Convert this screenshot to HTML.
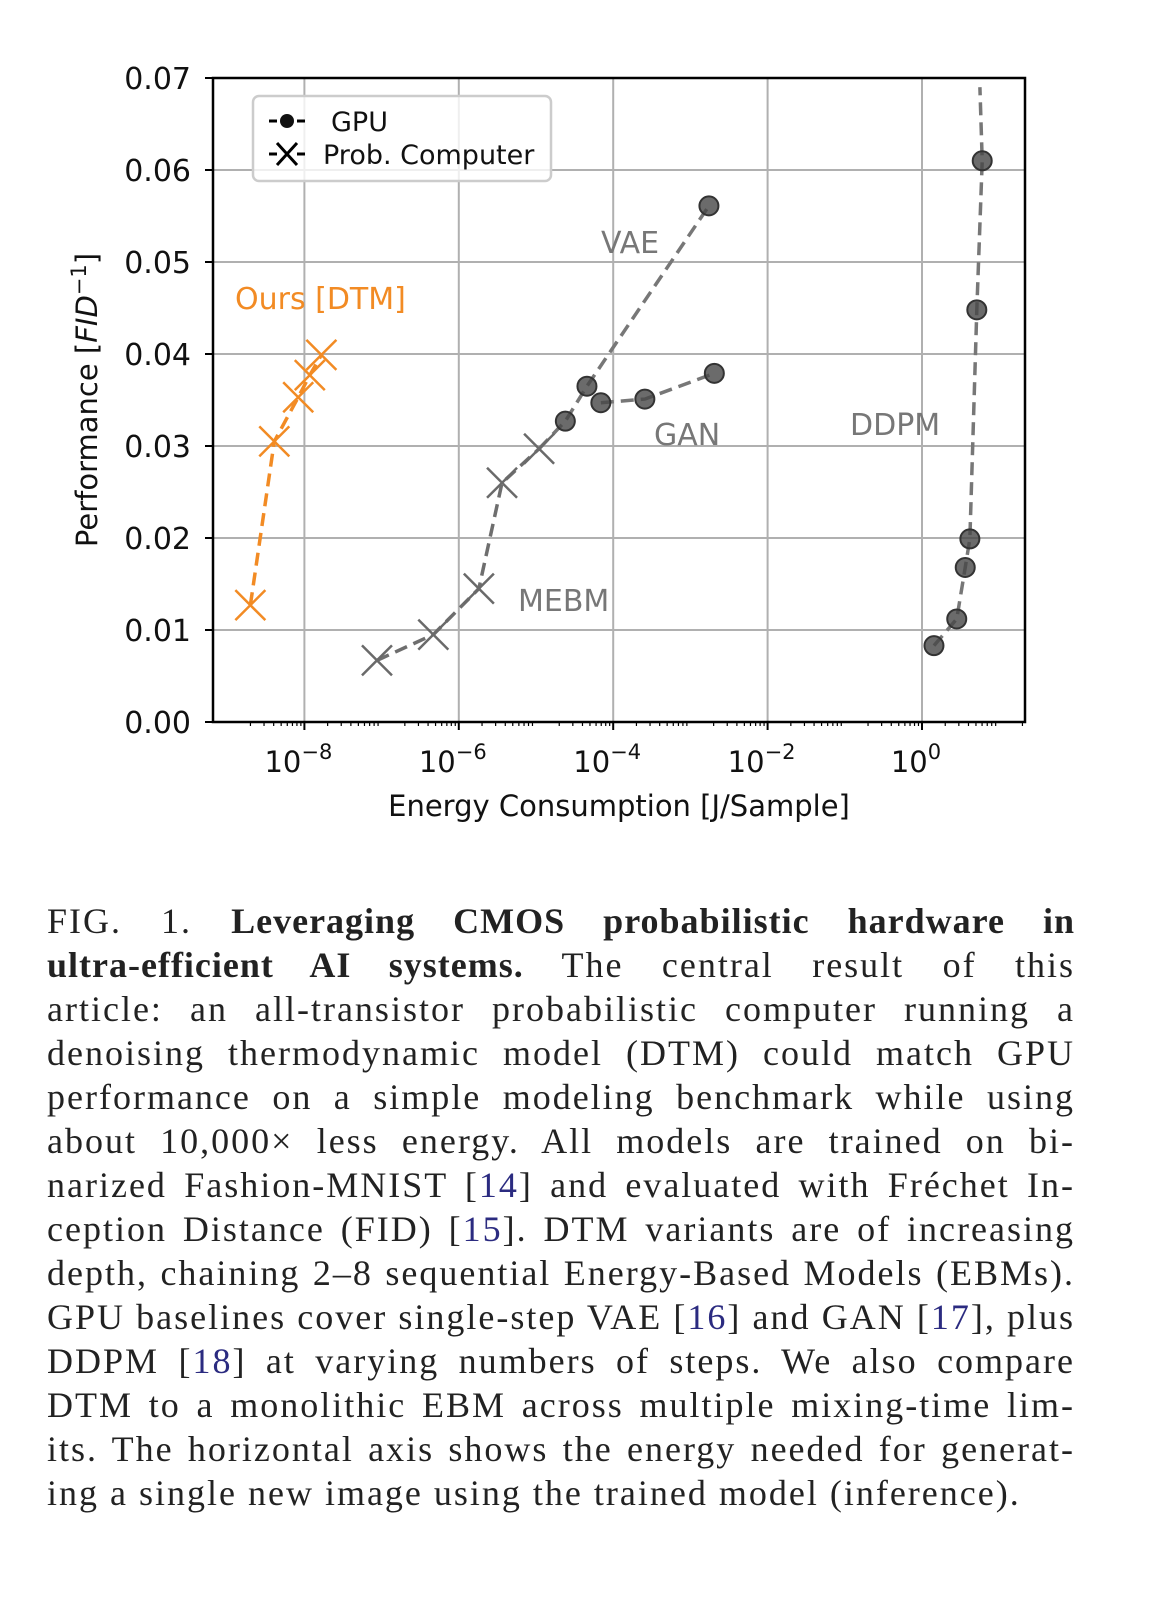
<!DOCTYPE html>
<html><head><meta charset="utf-8">
<style>
body{margin:0;background:#fff;width:1154px;height:1602px;overflow:hidden;position:relative}
svg{position:absolute;left:0;top:0}
.cap{position:absolute;left:47px;width:1028px;font-family:"Liberation Serif",serif;font-size:36px;letter-spacing:2px;color:#222;text-align:justify;text-align-last:justify;white-space:nowrap;line-height:44px}
.cap.last{text-align-last:left}
.cap b{letter-spacing:1px}
.ref{color:#2b2b80}
</style></head><body>
<svg width="1154" height="1602" font-family="DejaVu Sans, Liberation Sans, sans-serif">
<g id="grid"></g>
<g id="series"></g>
<g id="axes"></g>
</svg>
<div>
<div class="cap" style="top:899px">FIG. 1. <b>Leveraging CMOS probabilistic hardware in</b></div>
<div class="cap" style="top:943px"><b>ultra-efficient AI systems.</b> The central result of this</div>
<div class="cap" style="top:987px">article: an all-transistor probabilistic computer running a</div>
<div class="cap" style="top:1031px">denoising thermodynamic model (DTM) could match GPU</div>
<div class="cap" style="top:1075px">performance on a simple modeling benchmark while using</div>
<div class="cap" style="top:1119px">about 10,000× less energy. All models are trained on bi-</div>
<div class="cap" style="top:1163px">narized Fashion-MNIST [<span class="ref">14</span>] and evaluated with Fréchet In-</div>
<div class="cap" style="top:1207px">ception Distance (FID) [<span class="ref">15</span>]. DTM variants are of increasing</div>
<div class="cap" style="top:1251px">depth, chaining 2–8 sequential Energy-Based Models (EBMs).</div>
<div class="cap" style="top:1295px">GPU baselines cover single-step VAE [<span class="ref">16</span>] and GAN [<span class="ref">17</span>], plus</div>
<div class="cap" style="top:1339px">DDPM [<span class="ref">18</span>] at varying numbers of steps. We also compare</div>
<div class="cap" style="top:1383px">DTM to a monolithic EBM across multiple mixing-time lim-</div>
<div class="cap" style="top:1427px">its. The horizontal axis shows the energy needed for generat-</div>
<div class="cap last" style="top:1471px">ing a single new image using the trained model (inference).</div>
</div>
<script>
const yTicks=[0,0.01,0.02,0.03,0.04,0.05,0.06,0.07];
const yTickLabels=["0.00","0.01","0.02","0.03","0.04","0.05","0.06","0.07"];
const xTickExps=[-8,-6,-4,-2,0];
const dtmLogE=[-8.70,-8.39,-8.08,-7.93,-7.78];
const dtmPerf=[0.0127,0.0305,0.0353,0.0377,0.0399];
const mebmLogE=[-7.06,-6.33,-5.74,-5.44,-4.96];
const mebmPerf=[0.0067,0.0095,0.0145,0.0260,0.0297];
const vaeLogE=[-4.62,-4.34,-2.76];
const vaePerf=[0.0327,0.0365,0.0561];
const ganLogE=[-4.16,-3.59,-2.69];
const ganPerf=[0.0347,0.0351,0.0379];
const ddpmLogE=[0.155,0.45,0.56,0.62,0.71,0.78];
const ddpmPerf=[0.0083,0.0112,0.0168,0.0199,0.0448,0.0610];

const L=213,R=1025,T=78,B=722;
const X=v=>922+77.2*v;
const Y=v=>B-(v/0.07)*(B-T);
const NS="http://www.w3.org/2000/svg";
function mk(tag,attrs,parent,text){const e=document.createElementNS(NS,tag);for(const k in attrs)e.setAttribute(k,attrs[k]);if(text!==undefined)e.textContent=text;parent.appendChild(e);return e;}
const grid=document.getElementById('grid'),ser=document.getElementById('series'),ax=document.getElementById('axes');
yTicks.forEach((t,i)=>{
 const g=mk('line',{x1:L,x2:R,y1:Y(t),y2:Y(t),stroke:'#b0b0b0','stroke-width':2},grid);
 
 
 mk('line',{x1:L-8,x2:L,y1:Y(t),y2:Y(t),stroke:'#000','stroke-width':2},ax);
 const lb=mk('text',{x:L-22,y:Y(t)+11,'font-size':30,'text-anchor':'end',fill:'#111'},ax,yTickLabels[i]);
 
 
});
xTickExps.forEach(e=>{
 const x=X(e);
 const g=mk('line',{x1:x,x2:x,y1:T,y2:B,stroke:'#b0b0b0','stroke-width':2},grid);
 
 
 mk('line',{x1:x,x2:x,y1:B,y2:B+8,stroke:'#000','stroke-width':2},ax);
 const t=mk('text',{x:x-6,y:772,'font-size':29,'text-anchor':'middle',fill:'#111'},ax,'10');
 mk('tspan',{dy:-13,'font-size':21},t,String(e).replace('-','\u2212'));
 
 
});
for(let e=-9;e<=1;e++){for(let k=2;k<10;k++){const x=X(e+Math.log10(k));if(x>L&&x<R)mk('line',{x1:x,x2:x,y1:B,y2:B+4,stroke:'#000','stroke-width':1.2},ax);}}
const fr=mk('rect',{x:L,y:T,width:R-L,height:B-T,fill:'none',stroke:'#000','stroke-width':2.5},ax);


const xt=mk('text',{x:619,y:816,'font-size':29,'text-anchor':'middle',fill:'#111'},ax,'Energy Consumption [J/Sample]');


const yt=mk('text',{transform:'translate(97,400) rotate(-90)','font-size':29,'text-anchor':'middle',fill:'#111'},ax);
mk('tspan',{},yt,'Performance [');mk('tspan',{'font-style':'italic'},yt,'FID');
mk('tspan',{dy:-11,'font-size':21},yt,'\u22121');mk('tspan',{dy:11},yt,']');



function line(xs,ys,color,name){
 const d=xs.map((v,i)=>(i?'L':'M')+X(v)+','+Y(ys[i])).join(' ');
 const p=mk('path',{d:d,fill:'none',stroke:color,'stroke-width':3.5,'stroke-dasharray':'13,7'},ser);
 
 
}
function crosses(xs,ys,color,name){xs.forEach((v,i)=>{const x=X(v),y=Y(ys[i]),s=15;
 const g=mk('path',{d:`M${x-s},${y-s}L${x+s},${y+s}M${x-s},${y+s}L${x+s},${y-s}`,stroke:color,'stroke-width':2.5,fill:'none'},ser);
 
 });}
function dots(xs,ys,name){xs.forEach((v,i)=>{
 const c=mk('circle',{cx:X(v),cy:Y(ys[i]),r:9.5,fill:'rgba(70,70,70,0.8)',stroke:'#333','stroke-width':2},ser);
 
 });}
line(dtmLogE,dtmPerf,'#f28b24','dtm-line');
line(mebmLogE,mebmPerf,'#6e6e6e','mebm-line');
line([mebmLogE[mebmLogE.length-1]].concat(vaeLogE),[mebmPerf[mebmPerf.length-1]].concat(vaePerf),'#777','vae-line');
line(ganLogE,ganPerf,'#777','gan-line');
line(ddpmLogE.concat([0.75]),ddpmPerf.concat([0.069]),'#777','ddpm-line');
crosses(dtmLogE,dtmPerf,'#f28b24','dtm-point');
crosses(mebmLogE,mebmPerf,'#6a6a6a','mebm-point');
dots(vaeLogE,vaePerf,'vae-point');dots(ganLogE,ganPerf,'gan-point');dots(ddpmLogE,ddpmPerf,'ddpm-point');
[['Ours [DTM]',235,309,'#f28b24','dtm-label'],['VAE',601,253,'#777','vae-label'],['GAN',654,445,'#777','gan-label'],['DDPM',850,435,'#777','ddpm-label'],['MEBM',518,611,'#777','mebm-label']].forEach(a=>{
 const t=mk('text',{x:a[1],y:a[2],'font-size':30,fill:a[3]},ser,a[0]);
 
 });
const lg=mk('g',{},ax);


mk('rect',{x:253,y:96,width:298,height:85,rx:6,fill:'rgba(255,255,255,0.8)',stroke:'#ccc','stroke-width':2.5},lg);
mk('path',{d:'M269,121h8M297,121h8',stroke:'#000','stroke-width':3},lg);
mk('circle',{cx:287,cy:121,r:7,fill:'#111'},lg);
mk('text',{x:331,y:131,'font-size':27,fill:'#111'},lg,'GPU');
mk('path',{d:'M269,154h8M297,154h8M277,143l20,22M277,165l20,-22',stroke:'#000','stroke-width':3},lg);
mk('text',{x:323,y:164,'font-size':27,fill:'#111'},lg,'Prob. Computer');
</script>
</body></html>
